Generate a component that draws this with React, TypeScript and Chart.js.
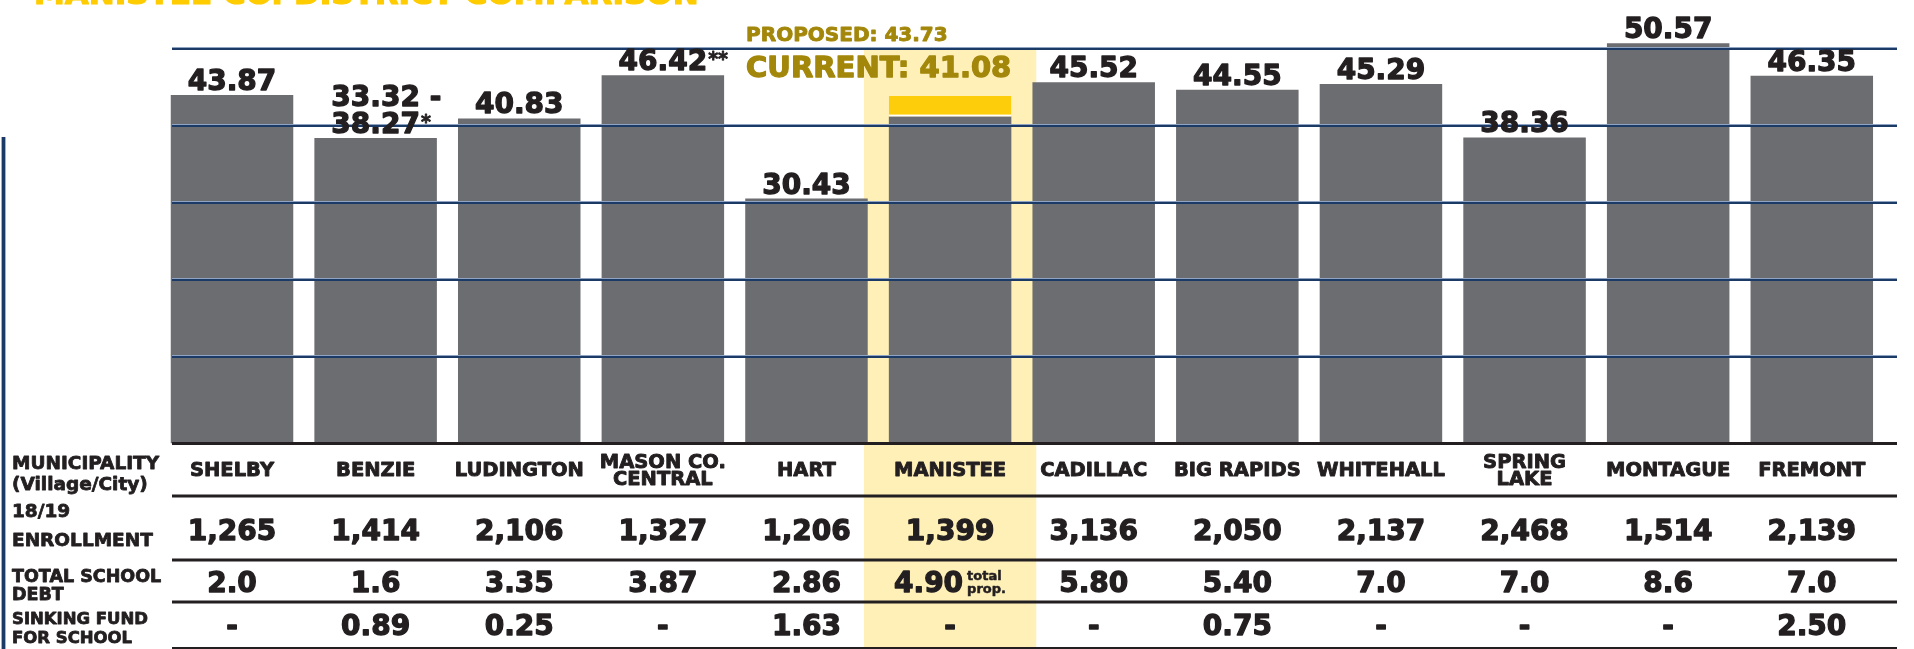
import React, { useEffect, useRef } from "react";
import { Chart, registerables } from "chart.js";

Chart.register(...registerables);

// ---------- data ----------
const municipalities: (string | string[])[] = [
  "SHELBY", "BENZIE", "LUDINGTON", ["MASON CO.", "CENTRAL"], "HART", "MANISTEE",
  "CADILLAC", "BIG RAPIDS", "WHITEHALL", ["SPRING", "LAKE"], "MONTAGUE", "FREMONT",
];
const currentMillage = [43.87, 38.27, 40.83, 46.42, 30.43, 41.08, 45.52, 44.55, 45.29, 38.36, 50.57, 46.35];
const rangeLow = [null, 33.32, null, null, null, null, null, null, null, null, null, null];
const footnotes = ["", "*", "", "**", "", "", "", "", "", "", "", ""];
const proposedMillage = [null, null, null, null, null, 43.73, null, null, null, null, null, null];
const enrollment = [1265, 1414, 2106, 1327, 1206, 1399, 3136, 2050, 2137, 2468, 1514, 2139];
const schoolDebt = ["2.0", "1.6", "3.35", "3.87", "2.86", "4.90", "5.80", "5.40", "7.0", "7.0", "8.6", "7.0"];
const sinkingFund = [null, 0.89, 0.25, null, 1.63, null, null, 0.75, null, null, null, 2.5];
const gridValues = [10, 20, 30, 40, 50];
const highlightIndex = 5;
const rowHeaders = [
  ["MUNICIPALITY", "(Village/City)"],
  ["18/19", "ENROLLMENT"],
  ["TOTAL SCHOOL", "DEBT"],
  ["SINKING FUND", "FOR SCHOOL"],
];
const title = "MANISTEE CO. DISTRICT COMPARISON";

// ---------- style ----------
const Y_MIN = -1.35;
const Y_MAX = 56.19;
const FONT = '"DejaVu Sans", "Liberation Sans", sans-serif';
const BAR = "#6c6d71";
const YELLOW = "#fdcd0b";
const BAND = "#fff0b8";
const GOLD = "#a3870a";
const INK = "#231f20";
const NAVY = "#1c3a66";
const RULE_LEFT = 172;
const RULE_RIGHT = 1897;

function heavy(ctx: CanvasRenderingContext2D, text: string, x: number, y: number, lw: number) {
  ctx.lineWidth = lw;
  ctx.lineJoin = "round";
  ctx.strokeStyle = ctx.fillStyle as string;
  ctx.strokeText(text, x, y);
  ctx.fillText(text, x, y);
}

const decor = {
  id: "decor",
  beforeDatasetsDraw(chart: any) {
    const { ctx, scales } = chart;
    const x = scales.x, y = scales.y;
    const cw = x.getPixelForValue(1) - x.getPixelForValue(0);
    const cx = x.getPixelForValue(highlightIndex);
    const top = y.getPixelForValue(gridValues[gridValues.length - 1]) + 1.5;
    ctx.save();
    ctx.fillStyle = BAND;
    ctx.fillRect(cx - 0.6 * cw, top, 1.2 * cw, chart.height - top);
    ctx.restore();
  },
  afterDatasetsDraw(chart: any) {
    const { ctx, scales } = chart;
    const x = scales.x, y = scales.y;
    ctx.save();
    // gridlines
    for (const v of gridValues) {
      const py = Math.round(y.getPixelForValue(v));
      ctx.fillStyle = "#8fa4c2";
      ctx.fillRect(RULE_LEFT, py - 1, RULE_RIGHT - RULE_LEFT, 1);
      ctx.fillStyle = NAVY;
      ctx.fillRect(RULE_LEFT, py, RULE_RIGHT - RULE_LEFT, 2);
    }
    // axis line + table rules
    ctx.fillStyle = INK;
    const axisY = y.getPixelForValue(Y_MIN);
    ctx.fillRect(RULE_LEFT, axisY - 1.5, RULE_RIGHT - RULE_LEFT, 3);
    for (const ry of [496, 560, 602, 648.5]) {
      ctx.fillRect(RULE_LEFT, ry - 1.5, RULE_RIGHT - RULE_LEFT, 3);
    }

    // value labels
    const meta = chart.getDatasetMeta(0);
    ctx.fillStyle = INK;
    ctx.textBaseline = "alphabetic";
    for (let i = 0; i < currentMillage.length; i++) {
      if (i === highlightIndex) continue;
      const el = meta.data[i];
      const base = el.y - 5;
      const txt = currentMillage[i].toFixed(2);
      ctx.font = `bold 28px ${FONT}`;
      ctx.textAlign = "center";
      heavy(ctx, txt, el.x, base, 1.3);
      const w = ctx.measureText(txt).width;
      if (rangeLow[i] != null) {
        ctx.textAlign = "left";
        heavy(ctx, `${(rangeLow[i] as number).toFixed(2)} -`, el.x - w / 2, base - 27, 1.3);
      }
      if (footnotes[i]) {
        ctx.font = `bold 19px ${FONT}`;
        ctx.textAlign = "left";
        heavy(ctx, footnotes[i], el.x + w / 2 + 1, base - 5, 0.8);
      }
    }
    // proposed / current for highlighted district
    const cx = x.getPixelForValue(highlightIndex);
    ctx.fillStyle = GOLD;
    ctx.textAlign = "left";
    ctx.font = `bold 20px ${FONT}`;
    heavy(ctx, `PROPOSED: ${(proposedMillage[highlightIndex] as number).toFixed(2)}`, cx - 204, 40.7, 0.9);
    ctx.font = `bold 29px ${FONT}`;
    heavy(ctx, `CURRENT: ${currentMillage[highlightIndex].toFixed(2)}`, cx - 204, 77.3, 1.3);

    // table contents
    ctx.fillStyle = INK;
    ctx.textAlign = "center";
    for (let i = 0; i < municipalities.length; i++) {
      const px = x.getPixelForValue(i);
      const name = municipalities[i];
      ctx.font = `bold 19.5px ${FONT}`;
      if (Array.isArray(name)) {
        heavy(ctx, name[0], px, 468, 0.9);
        heavy(ctx, name[1], px, 484.5, 0.9);
      } else {
        heavy(ctx, name, px, 476, 0.9);
      }
      ctx.font = `bold 28px ${FONT}`;
      heavy(ctx, enrollment[i].toLocaleString("en-US"), px, 540, 1.3);
      if (i === highlightIndex) {
        ctx.textAlign = "right";
        heavy(ctx, schoolDebt[i], px + 13, 592, 1.3);
        ctx.textAlign = "left";
        ctx.font = `bold 13px ${FONT}`;
        heavy(ctx, "total", px + 17, 580, 0.5);
        heavy(ctx, "prop.", px + 17, 593, 0.5);
        ctx.textAlign = "center";
        ctx.font = `bold 28px ${FONT}`;
      } else {
        heavy(ctx, schoolDebt[i], px, 592, 1.3);
      }
      const sf = sinkingFund[i];
      heavy(ctx, sf == null ? "-" : sf.toFixed(2), px, 635, 1.3);
    }

    // row headers
    ctx.textAlign = "left";
    const hdr = [
      { size: 18.5, ys: [469.3, 490] },
      { size: 18.5, ys: [516.7, 545.7] },
      { size: 17.5, ys: [582.3, 600] },
      { size: 16.5, ys: [624, 642.7] },
    ];
    rowHeaders.forEach((lines, r) => {
      ctx.font = `bold ${hdr[r].size}px ${FONT}`;
      lines.forEach((t, k) => heavy(ctx, t, 12, hdr[r].ys[k], 0.8));
    });

    // left rule
    ctx.fillStyle = "#9fb2cc";
    ctx.fillRect(1, 137, 1, 512);
    ctx.fillRect(5, 137, 1, 512);
    ctx.fillStyle = NAVY;
    ctx.fillRect(2, 137, 3, 512);

    // title (cut at top)
    ctx.fillStyle = "#ffcc00";
    ctx.font = `bold 31px ${FONT}`;
    heavy(ctx, title, 34, 3.5, 1.2);
    ctx.restore();
  },
};

export default function App() {
  const ref = useRef<HTMLCanvasElement | null>(null);
  useEffect(() => {
    if (!ref.current) return;
    const chart = new Chart(ref.current, {
      type: "bar",
      data: {
        labels: municipalities as any,
        datasets: [
          {
            label: "Current",
            data: currentMillage,
            backgroundColor: BAR,
            base: Y_MIN,
            grouped: false,
            barPercentage: 0.853,
            categoryPercentage: 1,
            order: 1,
          } as any,
          {
            label: "Proposed",
            data: proposedMillage.map((p, i) => (p == null ? null : [currentMillage[i], p])),
            backgroundColor: YELLOW,
            borderColor: "#ffffff",
            borderWidth: { top: 0, left: 0, right: 0, bottom: 2 },
            borderSkipped: false,
            grouped: false,
            barPercentage: 0.853,
            categoryPercentage: 1,
            order: 0,
          } as any,
        ],
      },
      options: {
        animation: false,
        responsive: true,
        maintainAspectRatio: false,
        layout: { padding: { left: 160.2, right: 30.4, top: 0, bottom: 205.5 } },
        plugins: { legend: { display: false }, tooltip: { enabled: false } },
        scales: {
          x: { display: false },
          y: { display: false, min: Y_MIN, max: Y_MAX },
        },
      },
      plugins: [decor],
    });
    return () => chart.destroy();
  }, []);
  return (
    <div style={{ position: "fixed", left: 0, top: 0, width: 1914, height: 649, background: "#fff" }}>
      <canvas ref={ref} />
    </div>
  );
}
